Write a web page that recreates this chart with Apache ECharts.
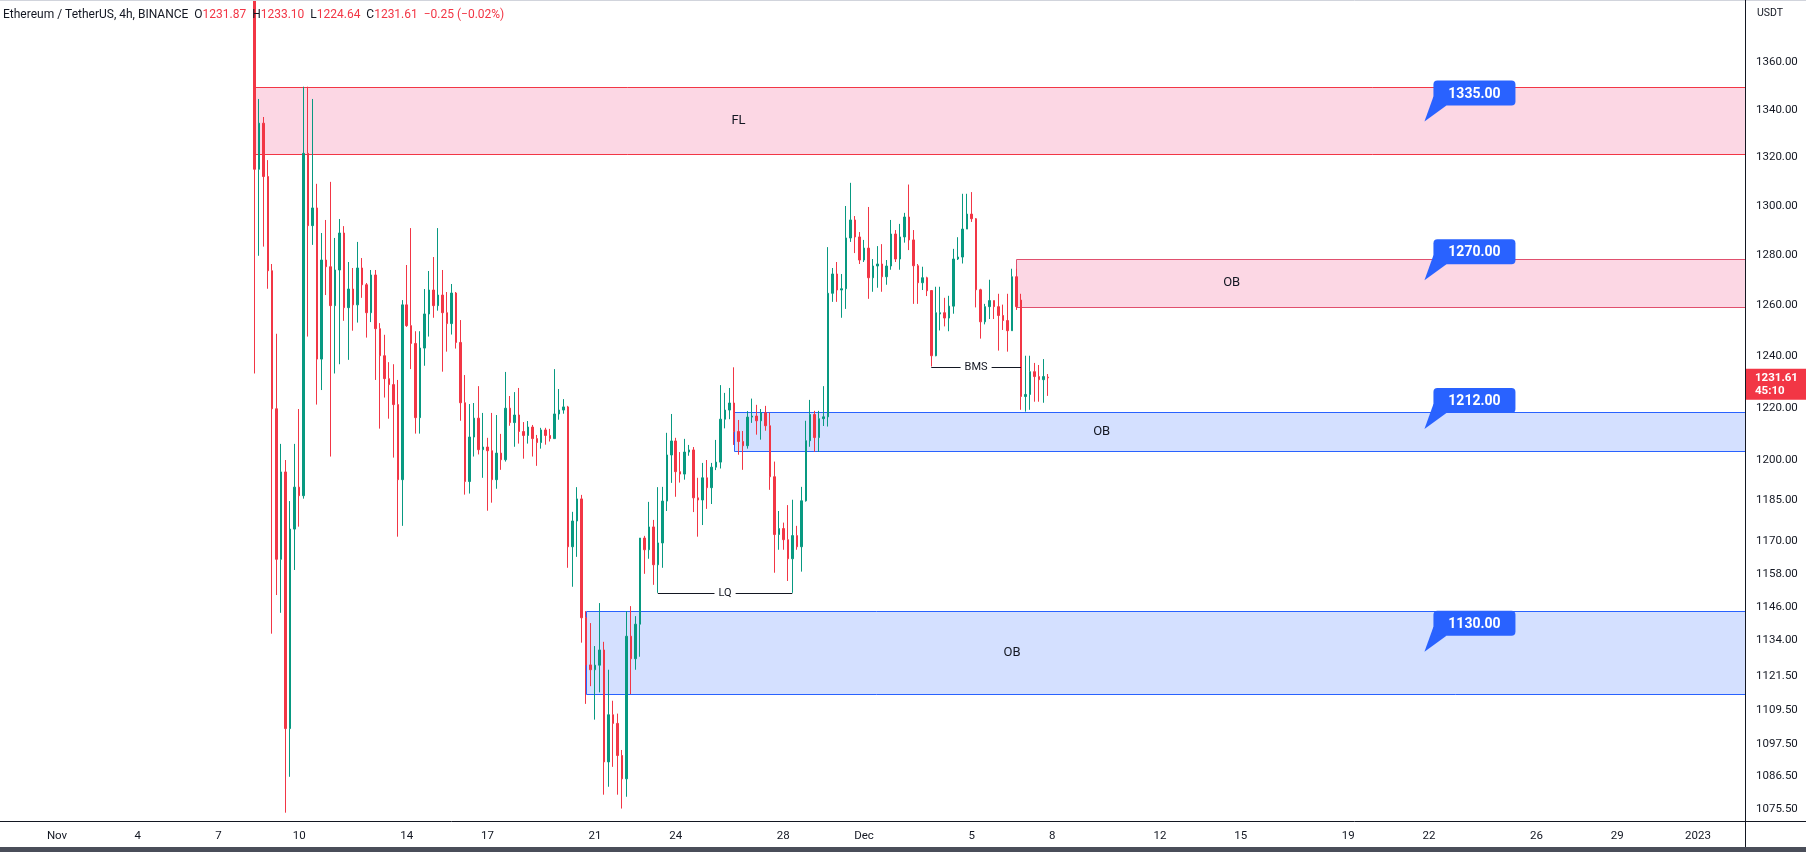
<!DOCTYPE html>
<html><head><meta charset="utf-8">
<script src="https://cdn.jsdelivr.net/npm/echarts@6/dist/echarts.min.js"></script>
<style>html,body{margin:0;padding:0;background:#fff}#c{width:1806px;height:852px}</style>
</head><body><div id="c"></div><script>
// ---------------- data ----------------
const symbolTitle = 'Ethereum / TetherUS, 4h, BINANCE';
const lastBar = { o: '1231.87', h: '1233.10', l: '1224.64', c: '1231.61', chg: '\u22120.25 (\u22120.02%)' };
const lastPrice = 1231.61;
const countdown = '45:10';
const firstCandleTime = '2022-11-08 08:00';
// 4h candles: [open, close, low, high]
const candles = [
 [1450,1315.1,1233.3,1460],[1315.1,1334.3,1279.8,1344.5],[1334.3,1312.1,1283.5,1336.9],[1312.1,1273.8,1266.6,1318.9],
 [1273.8,1219.7,1136.4,1276.5],[1219.7,1163.3,1150.3,1248.8],[1163.3,1195.7,1143.9,1206.3],[1195.7,1103.0,1074.2,1200.2],
 [1103.0,1174.4,1086.4,1184.8],[1174.4,1190.0,1159.4,1206.3],[1190.0,1186.8,1175.3,1219.6],[1186.8,1321.7,1185.7,1349.7],
 [1321.7,1292.0,1247.7,1349.7],[1292.0,1299.2,1284.2,1344.5],[1299.2,1238.9,1221.3,1309.1],[1238.9,1278.1,1226.9,1289.0],
 [1278.1,1275.4,1264.1,1294.3],[1275.4,1259.9,1201.5,1309.9],[1259.9,1274.1,1233.3,1287.0],[1274.1,1289.0,1236.9,1294.7],
 [1289.0,1259.1,1253.9,1291.8],[1259.1,1266.5,1238.6,1277.3],[1266.5,1260.2,1250.0,1274.9],[1260.2,1274.9,1253.2,1285.4],
 [1274.9,1268.2,1263.0,1278.9],[1268.2,1257.1,1247.3,1268.9],[1257.1,1272.1,1253.4,1274.1],[1272.1,1250.8,1230.8,1274.1],
 [1250.8,1240.2,1212.1,1253.0],[1240.2,1231.3,1224.0,1248.4],[1231.3,1229.0,1215.9,1237.7],[1229.0,1221.3,1201.1,1236.9],
 [1221.3,1192.8,1171.6,1230.8],[1192.8,1260.2,1175.6,1262.1],[1260.2,1252.0,1251.5,1276.1],[1252.0,1245.0,1235.0,1291.0],
 [1245.0,1216.3,1210.2,1249.8],[1216.3,1243.2,1210.2,1249.8],[1243.2,1256.6,1236.3,1266.5],[1256.6,1266.1,1247.7,1273.7],
 [1266.1,1259.9,1255.1,1279.3],[1259.9,1264.1,1257.9,1291.0],[1264.1,1257.1,1234.0,1274.1],[1257.1,1252.8,1241.8,1265.3],
 [1252.8,1264.9,1248.5,1268.5],[1264.9,1245.4,1243.0,1265.3],[1245.4,1222.0,1215.1,1254.2],[1222.0,1192.1,1187.2,1232.7],
 [1192.1,1208.9,1187.6,1221.5],[1208.9,1216.1,1201.5,1221.9],[1216.1,1204.1,1202.3,1228.4],[1204.1,1205.1,1193.5,1218.1],
 [1205.1,1203.7,1181.2,1208.6],[1203.7,1192.8,1184.2,1218.1],[1192.8,1202.8,1189.4,1217.3],[1202.8,1200.3,1196.5,1210.1],
 [1200.3,1219.9,1199.6,1233.9],[1219.9,1214.4,1213.2,1224.6],[1214.4,1217.3,1205.2,1226.1],[1217.3,1211.0,1206.4,1227.7],
 [1211.0,1209.5,1200.7,1214.6],[1209.5,1212.7,1206.4,1215.0],[1212.7,1208.3,1201.5,1213.5],[1208.3,1206.8,1198.0,1209.7],
 [1206.8,1211.6,1204.5,1212.4],[1211.6,1209.5,1206.0,1212.4],[1209.5,1208.3,1207.2,1212.0],[1208.3,1217.7,1208.3,1235.0],
 [1217.7,1219.2,1215.5,1227.3],[1219.2,1220.4,1217.8,1223.4],[1220.4,1167.9,1160.2,1220.8],[1167.9,1177.4,1153.3,1180.8],
 [1177.4,1185.6,1164.2,1190.0],[1185.6,1142.1,1133.2,1187.1],[1142.1,1125.3,1111.6,1144.5],[1125.3,1123.6,1117.8,1140.2],
 [1123.6,1125.2,1106.1,1132.0],[1125.2,1130.6,1115.6,1147.4],[1130.6,1091.5,1080.3,1133.5],[1091.5,1107.8,1083.0,1123.6],
 [1107.8,1104.8,1089.8,1112.7],[1104.8,1093.7,1080.3,1108.2],[1093.7,1085.7,1075.6,1095.6],[1085.7,1135.5,1079.6,1144.5],
 [1135.5,1127.5,1115.0,1146.3],[1127.5,1139.8,1123.6,1142.7],[1139.8,1171.1,1128.2,1171.1],[1171.1,1166.8,1158.0,1171.9],
 [1166.8,1175.2,1163.5,1184.5],[1175.2,1161.3,1154.0,1177.8],[1161.3,1169.3,1151.1,1190.0],[1169.3,1184.8,1160.2,1190.1],
 [1184.8,1202.1,1181.1,1210.5],[1202.1,1207.4,1191.6,1217.7],[1207.4,1195.8,1186.4,1208.6],[1195.8,1194.9,1191.7,1203.2],
 [1194.9,1203.2,1192.8,1208.2],[1203.2,1204.0,1201.8,1205.9],[1204.0,1186.0,1180.7,1205.1],[1186.0,1185.2,1171.6,1193.5],
 [1185.2,1193.5,1175.9,1199.1],[1193.5,1189.8,1181.9,1200.2],[1189.8,1197.5,1183.7,1199.1],[1197.5,1199.4,1196.4,1207.8],
 [1199.4,1215.7,1197.0,1228.8],[1215.7,1219.2,1212.2,1225.8],[1219.2,1221.9,1215.7,1227.7],[1221.9,1211.0,1205.9,1235.7],
 [1211.0,1207.2,1202.2,1215.4],[1207.2,1205.6,1196.5,1211.2],[1205.6,1216.5,1204.5,1218.8],[1216.5,1216.9,1214.3,1223.6],
 [1216.9,1215.1,1209.8,1221.2],[1215.1,1218.2,1207.9,1219.6],[1218.2,1213.2,1211.3,1220.8],[1213.2,1193.9,1189.0,1218.2],
 [1193.9,1172.4,1158.4,1199.6],[1172.4,1174.6,1166.8,1181.1],[1174.6,1170.5,1166.8,1176.8],[1170.5,1163.5,1155.4,1183.3],
 [1163.5,1172.0,1151.1,1185.3],[1172.0,1167.9,1166.8,1175.6],[1167.9,1184.9,1158.8,1190.1],[1184.9,1207.5,1184.6,1215.1],
 [1207.5,1217.5,1205.2,1223.1],[1217.5,1208.7,1203.3,1218.9],[1208.7,1215.9,1203.3,1218.9],[1215.9,1216.6,1213.1,1228.4],
 [1216.6,1264.8,1212.9,1283.3],[1264.8,1272.5,1261.4,1274.9],[1272.5,1266.1,1261.4,1277.3],[1266.1,1266.6,1255.1,1272.5],
 [1266.6,1287.0,1258.6,1300.0],[1287.0,1294.3,1285.4,1309.5],[1294.3,1287.4,1280.9,1295.9],[1287.4,1278.1,1276.5,1289.4],
 [1278.1,1282.9,1277.3,1286.2],[1282.9,1271.0,1262.6,1299.6],[1271.0,1275.7,1265.4,1278.5],[1275.7,1276.5,1267.0,1283.7],
 [1276.5,1271.4,1265.4,1284.5],[1271.4,1275.7,1268.2,1278.1],[1275.7,1288.6,1274.2,1294.3],[1288.6,1278.5,1277.3,1290.2],
 [1278.5,1287.4,1274.2,1292.7],[1287.4,1295.5,1285.1,1297.2],[1295.5,1286.2,1282.1,1308.8],[1286.2,1275.8,1260.6,1290.2],
 [1275.8,1269.0,1260.6,1276.5],[1269.0,1271.0,1266.1,1275.4],[1271.0,1265.8,1263.7,1271.4],[1265.9,1240.2,1236.0,1265.9],
 [1240.2,1257.1,1240.0,1267.4],[1256.6,1257.1,1250.1,1267.4],[1257.1,1255.0,1251.7,1263.0],[1255.0,1259.7,1249.8,1263.8],
 [1259.7,1278.5,1256.7,1282.6],[1278.5,1279.3,1278.1,1287.3],[1279.3,1290.6,1276.7,1305.0],[1290.6,1296.7,1290.6,1305.0],
 [1296.7,1294.8,1293.5,1305.7],[1294.8,1266.2,1259.2,1295.1],[1266.2,1253.5,1246.9,1266.6],[1253.5,1259.5,1252.5,1260.6],
 [1259.5,1261.9,1254.6,1270.2],[1261.9,1259.5,1254.6,1261.9],[1259.5,1256.0,1242.2,1264.6],[1256.0,1254.0,1250.3,1260.3],
 [1254.0,1250.0,1241.8,1264.6],[1250.0,1271.4,1250.0,1274.6],[1271.4,1259.5,1258.2,1274.6],[1262.1,1224.4,1219.3,1264.6],
 [1224.4,1225.2,1218.6,1240.2],[1225.2,1234.0,1219.3,1240.2],[1234.0,1232.1,1222.4,1237.4],[1232.1,1230.9,1222.4,1236.6],
 [1230.9,1232.1,1222.0,1238.9],[1231.87,1231.61,1224.64,1233.10]
];
const priceTicks = [1360,1340,1320,1300,1280,1260,1240,1220,1200,1185,1170,1158,1146,1134,1121.5,1109.5,1097.5,1086.5,1075.5];
const priceRange = [1071.4, 1387.0];
const dateTicks = [
 ['2022-11-01','Nov'],['2022-11-04','4'],['2022-11-07','7'],['2022-11-10','10'],['2022-11-14','14'],['2022-11-17','17'],
 ['2022-11-21','21'],['2022-11-24','24'],['2022-11-28','28'],['2022-12-01','Dec'],['2022-12-05','5'],['2022-12-08','8'],
 ['2022-12-12','12'],['2022-12-15','15'],['2022-12-19','19'],['2022-12-22','22'],['2022-12-26','26'],['2022-12-29','29'],
 ['2023-01-01','2023']
];
const axisStartTime = '2022-10-30 00:00';
const axisSlots = 389;
// zones: label, start time, top, bottom, label time, kind
const zoneLabels = ['FL','OB','OB','OB'];
const zoneStart = ['2022-11-08 08:00','2022-12-06 16:00','2022-11-26 04:00','2022-11-20 16:00'];
const zoneTop = [1349.4, 1278.5, 1218.3, 1144.5];
const zoneBottom = [1321.5, 1259.2, 1203.5, 1114.9];
const zoneLabelTime = ['2022-11-26 08:00','2022-12-14 16:00','2022-12-09 20:00','2022-12-06 12:00'];
const zoneKind = ['supply','supply','demand','demand'];
// level lines
const levelLabels = ['LQ','BMS'];
const levelFrom = ['2022-11-23 08:00','2022-12-03 12:00'];
const levelTo = ['2022-11-28 08:00','2022-12-06 20:00'];
const levelPrice = [1151.0, 1236.0];
// callouts
const calloutPrices = [1335, 1270, 1212, 1130];
const calloutTime = '2022-12-21 20:00';

// ---------------- helpers ----------------
const pad = n => String(n).padStart(2, '0');
const fmt = ms => { const d = new Date(ms); return d.getUTCFullYear() + '-' + pad(d.getUTCMonth()+1) + '-' + pad(d.getUTCDate()) + ' ' + pad(d.getUTCHours()) + ':' + pad(d.getUTCMinutes()); };
const parse = s => Date.parse(s.replace(' ', 'T') + ':00Z');
const t0 = parse(axisStartTime);
const categories = Array.from({length: axisSlots}, (_, k) => fmt(t0 + k * 4 * 3600e3));
const idx = t => categories.indexOf(t);
const L = Math.log;
const tickMap = new Map(dateTicks.map(d => [d[0] + ' 00:00', d[1]]));
const FONT = 'Roboto, "Liberation Sans", sans-serif';
const TXT = '#131722', UP = '#089981', DOWN = '#F23645';

const first = idx(firstCandleTime);
const candleData = candles.map((c, k) => [first + k, L(c[0]), L(c[1]), L(c[2]), L(c[3])]);
const lastIdx = first + candles.length - 1;

const chart = echarts.init(document.getElementById('c'), null, {renderer: 'canvas'});
chart.setOption({
  animation: false,
  backgroundColor: '#ffffff',
  grid: {left: 1, right: 61, top: 0, bottom: 31, containLabel: false},
  xAxis: {
    type: 'category', data: categories, boundaryGap: true,
    axisLine: {show: false}, axisTick: {show: false}, splitLine: {show: false},
    axisLabel: {
      interval: (i, v) => tickMap.has(v), formatter: v => tickMap.get(v) || '',
      color: TXT, fontSize: 11.5, fontFamily: FONT, margin: 9
    }
  },
  yAxis: {
    type: 'value', position: 'right', min: L(priceRange[0]), max: L(priceRange[1]),
    axisLine: {show: false}, axisTick: {show: false}, splitLine: {show: false},
    axisLabel: {
      customValues: priceTicks.map(L), formatter: v => Math.exp(v).toFixed(2),
      color: TXT, fontSize: 11.5, fontFamily: FONT, margin: 11, align: 'left'
    }
  },
  series: [
    { // zones
      type: 'custom', coordinateSystem: 'cartesian2d', clip: true, z: 1,
      data: zoneLabels.map((_, k) => [idx(zoneStart[k]), L(zoneTop[k]), L(zoneBottom[k]), idx(zoneLabelTime[k]), k]),
      encode: {x: 0, y: [1, 2]},
      renderItem: (params, api) => {
        const k = api.value(4);
        const a = api.coord([api.value(0), api.value(1)]);
        const b = api.coord([api.value(0), api.value(2)]);
        const cs = params.coordSys;
        const right = cs.x + cs.width;
        const t = api.coord([api.value(3), (api.value(1) + api.value(2)) / 2]);
        const supply = zoneKind[k] === 'supply';
        return {type: 'group', children: [
          {type: 'rect', shape: {x: Math.round(a[0]) + 0.5, y: Math.round(a[1]) + 0.5, width: right - Math.round(a[0]), height: Math.round(b[1]) - Math.round(a[1])},
           style: {fill: supply ? 'rgba(242,54,120,0.2)' : 'rgba(41,98,255,0.2)', stroke: supply ? (k === 0 ? '#F23645' : '#E0506E') : '#2962FF', lineWidth: 1}},
          {type: 'text', x: t[0], y: t[1], style: {text: zoneLabels[k], fill: TXT, font: '13px ' + FONT, align: 'center', verticalAlign: 'middle'}}
        ]};
      }
    },
    {
      type: 'candlestick', data: candleData, encode: {x: 0, y: [1, 2, 3, 4]}, barWidth: 2, clip: true, z: 3,
      itemStyle: {color: UP, color0: DOWN, borderColor: UP, borderColor0: DOWN, borderWidth: 1}
    },
    { // level lines
      type: 'custom', coordinateSystem: 'cartesian2d', z: 4,
      data: levelLabels.map((_, k) => [idx(levelFrom[k]), idx(levelTo[k]), L(levelPrice[k]), k]),
      encode: {x: [0, 1], y: 2},
      renderItem: (params, api) => {
        const k = api.value(3);
        const a = api.coord([api.value(0), api.value(2)]);
        const b = api.coord([api.value(1), api.value(2)]);
        const y = Math.round(a[1]) + 0.5;
        return {type: 'group', children: [
          {type: 'line', shape: {x1: a[0], y1: y, x2: b[0], y2: y}, style: {stroke: TXT, lineWidth: 1}},
          {type: 'text', x: (a[0] + b[0]) / 2, y: y, style: {text: levelLabels[k], fill: TXT, font: '11px ' + FONT, align: 'center', verticalAlign: 'middle', backgroundColor: '#fff', padding: [1, 4]}}
        ]};
      }
    },
    { // callouts
      type: 'custom', coordinateSystem: 'cartesian2d', z: 5,
      data: calloutPrices.map((p, k) => [idx(calloutTime), L(p), k]),
      encode: {x: 0, y: 1},
      renderItem: (params, api) => {
        const k = api.value(2);
        const tip = api.coord([api.value(0), api.value(1)]);
        const bw = 82, bh = 25;
        const bx = tip[0] + 9, by = tip[1] - 16 - bh;
        return {type: 'group', children: [
          {type: 'polygon', shape: {points: [[tip[0], tip[1]], [bx, by + bh - 9], [bx + 13, by + bh]]}, style: {fill: '#2962FF'}},
          {type: 'rect', shape: {x: bx, y: by, width: bw, height: bh, r: 4}, style: {fill: '#2962FF'}},
          {type: 'text', x: bx + bw / 2, y: by + bh / 2 + 1, style: {text: calloutPrices[k].toFixed(2), fill: '#fff', font: 'bold 14px ' + FONT, align: 'center', verticalAlign: 'middle'}}
        ]};
      }
    },
    { // last price label on axis
      type: 'custom', coordinateSystem: 'cartesian2d', z: 10, clip: false,
      data: [[lastIdx, L(lastPrice)]],
      encode: {x: 0, y: 1},
      renderItem: (params, api) => {
        const p = api.coord([api.value(0), api.value(1)]);
        const cs = params.coordSys;
        const x = cs.x + cs.width;
        return {type: 'group', children: [
          {type: 'rect', shape: {x: x, y: p[1] - 9, width: 61, height: 31}, style: {fill: DOWN}},
          {type: 'text', x: x + 10, y: p[1], style: {text: lastPrice.toFixed(2), fill: '#fff', font: 'bold 11.5px ' + FONT, verticalAlign: 'middle'}},
          {type: 'text', x: x + 10, y: p[1] + 13, style: {text: countdown, fill: '#fff', font: 'bold 11.5px ' + FONT, verticalAlign: 'middle'}}
        ]};
      }
    }
  ],
  graphic: [
    {type: 'line', shape: {x1: 0, y1: 0.5, x2: 1806, y2: 0.5}, style: {stroke: '#d1d4dc', lineWidth: 1}, z: 100},
    {type: 'line', shape: {x1: 0, y1: 821.5, x2: 1806, y2: 821.5}, style: {stroke: '#131722', lineWidth: 1}, z: 100},
    {type: 'line', shape: {x1: 1745.5, y1: 0, x2: 1745.5, y2: 852}, style: {stroke: '#131722', lineWidth: 1}, z: 100},
    {type: 'rect', shape: {x: 0, y: 847, width: 1806, height: 5}, style: {fill: '#4a4e59'}, z: 100},
    {type: 'text', x: 1757, y: 13, style: {text: 'USDT', fill: TXT, font: '10.5px ' + FONT, verticalAlign: 'middle'}, z: 100},
    {type: 'text', x: 3, y: 15, z: 100, style: {
      text: '{t|' + symbolTitle + '}  {k|O}{v|' + lastBar.o + '}  {k|H}{v|' + lastBar.h + '}  {k|L}{v|' + lastBar.l + '}  {k|C}{v|' + lastBar.c + '}  {v|' + lastBar.chg + '}',
      verticalAlign: 'middle', font: '12px ' + FONT,
      rich: {t: {fill: TXT, font: '12px ' + FONT}, k: {fill: TXT, font: '12px ' + FONT}, v: {fill: DOWN, font: '12px ' + FONT}}
    }}
  ]
});
</script></body></html>
